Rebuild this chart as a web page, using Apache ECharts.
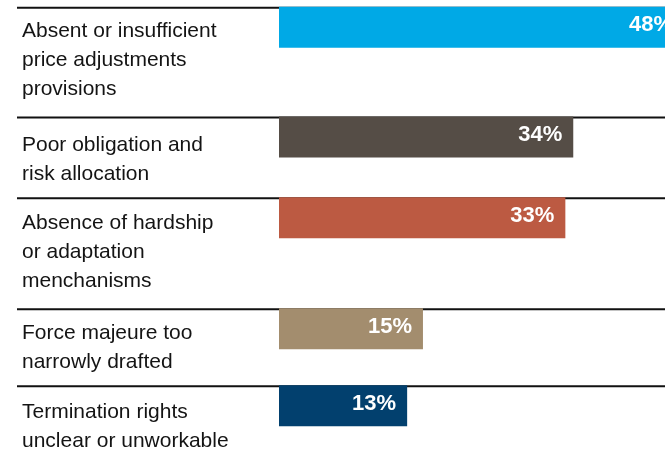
<!DOCTYPE html>
<html>
<head>
<meta charset="utf-8">
<script src="https://cdn.jsdelivr.net/npm/echarts@6/dist/echarts.min.js"></script>
<style>
  html, body { margin: 0; padding: 0; background: #ffffff; }
  #chart { width: 665px; height: 450px; }
</style>
</head>
<body>
<div id="chart"></div>
<script>
// Contract problems reported, share of respondents (%)
const categories = [
  'Absent or insufficient\nprice adjustments\nprovisions',
  'Poor obligation and\nrisk allocation',
  'Absence of hardship\nor adaptation\nmenchanisms',
  'Force majeure too\nnarrowly drafted',
  'Termination rights\nunclear or unworkable'
];
const values = [48, 34, 33, 15, 13];

// Styling
const barColors = ['#00A9E6', '#554D46', '#BC5A42', '#A38D6E', '#02406E'];
const FONT = '"Liberation Sans", Arial, Helvetica, sans-serif';

// Row layout: each row starts at a rule line; label block is centred in its box
const rowTops = [7.8, 117.5, 198.3, 309.3, 386.3];
const labelBoxHeights = [105.4, 85, 107, 76.4, 80.4];
const BAR_HEIGHT = 41;
const PLOT_LEFT = 279;

const chart = echarts.init(document.getElementById('chart'), null, { renderer: 'canvas' });

const grids = [], xAxes = [], yAxes = [], series = [], graphics = [];

categories.forEach((name, i) => {
  grids.push({
    left: PLOT_LEFT,
    right: -19,
    top: rowTops[i],
    height: labelBoxHeights[i],
    containLabel: false,
    outerBoundsMode: 'none'
  });
  xAxes.push({
    gridIndex: i,
    type: 'value',
    min: -3.2,
    max: 48,
    show: false
  });
  yAxes.push({
    gridIndex: i,
    type: 'category',
    data: [name],
    axisLine: { show: false },
    axisTick: { show: false },
    splitLine: { show: false },
    axisLabel: {
      align: 'left',
      margin: PLOT_LEFT - 22,
      fontSize: 21,
      lineHeight: 29,
      color: '#141414',
      fontFamily: FONT
    }
  });
  series.push({
    type: 'custom',
    xAxisIndex: i,
    yAxisIndex: i,
    z: 5,
    data: [[values[i], 0]],
    encode: { x: 0, y: 1 },
    renderItem: (params, api) => {
      const cs = params.coordSys;
      const end = api.coord([api.value(0), 0])[0];
      return {
        type: 'rect',
        shape: { x: cs.x, y: cs.y - 1, width: end - cs.x, height: BAR_HEIGHT },
        style: { fill: barColors[i] },
        textContent: {
          style: {
            text: api.value(0) + '%',
            fill: '#ffffff',
            font: 'bold 22px ' + FONT
          }
        },
        textConfig: { position: 'insideRight', distance: 11, offset: [0, -2] }
      };
    }
  });
  // Rule line above each row
  graphics.push({
    type: 'line',
    z: 0,
    shape: { x1: 17, y1: rowTops[i], x2: 665, y2: rowTops[i] },
    style: { stroke: '#111111', lineWidth: 2 }
  });
});

chart.setOption({
  animation: false,
  backgroundColor: '#ffffff',
  grid: grids,
  xAxis: xAxes,
  yAxis: yAxes,
  series: series,
  graphic: graphics
});
</script>
</body>
</html>
